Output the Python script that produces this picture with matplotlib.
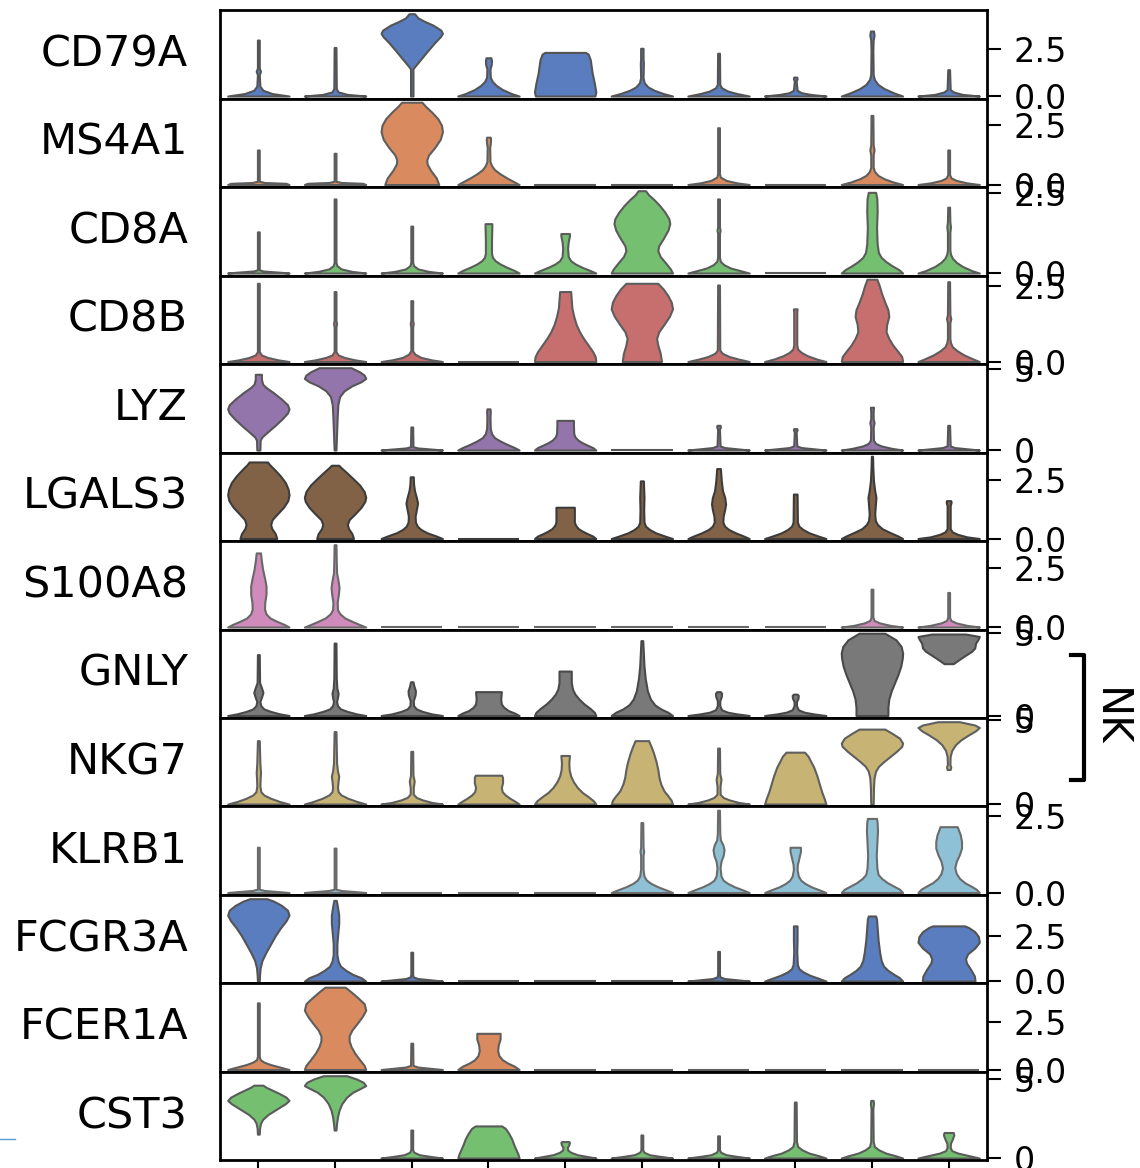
import colorsys
import matplotlib.pyplot as plt
from matplotlib.lines import Line2D
import seaborn as sns

# stacked violin: marker genes (rows) x clusters (columns)
genes = ["CD79A", "MS4A1", "CD8A", "CD8B", "LYZ", "LGALS3", "S100A8",
         "GNLY", "NKG7", "KLRB1", "FCGR3A", "FCER1A", "CST3"]
clusters = ["0", "1", "2", "3", "4", "5", "6", "7", "8", "9"]

# highest expression value per gene (top of its tallest violin)
gene_max = [4.4, 3.45, 2.58, 2.72, 5.1, 3.5, 3.5, 4.98, 4.89, 2.68, 4.54, 4.37, 5.23]
gene_ticks = [[0, 2.5], [0, 2.5], [0, 2.5], [0, 2.5], [0, 5], [0, 2.5], [0, 2.5],
              [0, 5], [0, 5], [0, 2.5], [0, 2.5], [0, 2.5], [0, 5]]

# violin outlines:
# (expression as fraction of gene max, density relative to the violin's widest point)
FLAT = [(0, 1.0), (0, 1.0)]  # cluster with no expression at all

cd79a = [
    [(0, 1), (0.03, 0.45), (0.07, 0.15), (0.12, 0.05), (0.26, 0.03), (0.30, 0.07), (0.34, 0.03), (0.68, 0.03)],
    [(0, 1), (0.02, 0.4), (0.05, 0.1), (0.09, 0.04), (0.59, 0.03)],
    [(0, 0.04), (0.33, 0.04), (0.36, 0.1), (0.45, 0.3), (0.55, 0.52), (0.65, 0.75), (0.72, 0.93),
     (0.76, 1.0), (0.80, 0.95), (0.86, 0.7), (0.91, 0.4), (0.95, 0.2), (1.0, 0.09)],
    [(0, 1), (0.03, 0.75), (0.08, 0.45), (0.13, 0.25), (0.18, 0.12), (0.23, 0.06), (0.33, 0.05),
     (0.38, 0.09), (0.43, 0.10), (0.465, 0.08)],
    [(0, 0.97), (0.05, 1.0), (0.16, 0.95), (0.28, 0.88), (0.44, 0.82), (0.51, 0.75), (0.53, 0.66)],
    [(0, 1), (0.03, 0.7), (0.07, 0.4), (0.11, 0.2), (0.16, 0.08), (0.22, 0.04), (0.40, 0.05), (0.45, 0.04), (0.58, 0.04)],
    [(0, 1), (0.03, 0.6), (0.06, 0.3), (0.10, 0.1), (0.14, 0.04), (0.52, 0.03)],
    [(0, 1), (0.02, 0.5), (0.04, 0.2), (0.07, 0.06), (0.18, 0.03), (0.21, 0.06), (0.23, 0.05)],
    [(0, 1), (0.04, 0.7), (0.09, 0.4), (0.14, 0.2), (0.20, 0.08), (0.26, 0.04), (0.55, 0.03),
     (0.68, 0.04), (0.74, 0.07), (0.79, 0.05)],
    [(0, 1), (0.02, 0.45), (0.05, 0.15), (0.08, 0.05), (0.32, 0.03)],
]

ms4a1 = [
    [(0, 1), (0.015, 0.9), (0.025, 0.2), (0.04, 0.03), (0.42, 0.03)],
    [(0, 1), (0.015, 0.9), (0.025, 0.2), (0.04, 0.03), (0.38, 0.03)],
    [(0, 0.88), (0.08, 0.8), (0.17, 0.62), (0.25, 0.5), (0.30, 0.49), (0.36, 0.55), (0.45, 0.75),
     (0.55, 0.93), (0.64, 1.0), (0.72, 0.97), (0.80, 0.85), (0.88, 0.65), (0.95, 0.45), (1.0, 0.33)],
    [(0, 1), (0.03, 0.85), (0.08, 0.6), (0.13, 0.38), (0.18, 0.2), (0.23, 0.1), (0.28, 0.05),
     (0.45, 0.04), (0.50, 0.06), (0.55, 0.07), (0.575, 0.06)],
    FLAT,
    FLAT,
    [(0, 1), (0.02, 0.6), (0.05, 0.25), (0.09, 0.06), (0.13, 0.03), (0.69, 0.03)],
    FLAT,
    [(0, 1), (0.03, 0.7), (0.07, 0.4), (0.11, 0.2), (0.16, 0.08), (0.21, 0.04), (0.36, 0.04),
     (0.42, 0.07), (0.48, 0.04), (0.84, 0.03)],
    [(0, 1), (0.02, 0.6), (0.05, 0.25), (0.08, 0.08), (0.12, 0.03), (0.42, 0.03)],
]

cd8a = [
    [(0, 1), (0.01, 0.7), (0.025, 0.15), (0.04, 0.03), (0.50, 0.03)],
    [(0, 1), (0.02, 0.55), (0.05, 0.2), (0.09, 0.06), (0.13, 0.03), (0.90, 0.03)],
    [(0, 1), (0.02, 0.55), (0.05, 0.2), (0.09, 0.06), (0.13, 0.03), (0.57, 0.03)],
    [(0, 1), (0.03, 0.85), (0.07, 0.6), (0.11, 0.38), (0.15, 0.22), (0.19, 0.13), (0.24, 0.1),
     (0.40, 0.1), (0.55, 0.11), (0.60, 0.11)],
    [(0, 1), (0.03, 0.82), (0.07, 0.55), (0.11, 0.33), (0.15, 0.18), (0.20, 0.1), (0.30, 0.08),
     (0.38, 0.1), (0.45, 0.14), (0.48, 0.14)],
    [(0, 1), (0.05, 0.93), (0.12, 0.78), (0.20, 0.6), (0.27, 0.52), (0.33, 0.55), (0.42, 0.7),
     (0.52, 0.85), (0.60, 0.91), (0.66, 0.88), (0.74, 0.75), (0.82, 0.58), (0.89, 0.4), (0.95, 0.22), (1.0, 0.12)],
    [(0, 1), (0.03, 0.7), (0.06, 0.4), (0.10, 0.18), (0.14, 0.06), (0.19, 0.03), (0.48, 0.03),
     (0.52, 0.05), (0.56, 0.03), (0.90, 0.03)],
    FLAT,
    [(0, 1), (0.04, 0.88), (0.09, 0.65), (0.14, 0.45), (0.19, 0.3), (0.25, 0.21), (0.35, 0.17),
     (0.55, 0.15), (0.75, 0.17), (0.90, 0.16), (0.98, 0.12)],
    [(0, 1), (0.03, 0.75), (0.08, 0.45), (0.13, 0.25), (0.18, 0.12), (0.23, 0.06), (0.28, 0.04),
     (0.50, 0.04), (0.56, 0.06), (0.62, 0.04), (0.80, 0.03)],
]

cd8b = [
    [(0, 1), (0.02, 0.65), (0.05, 0.3), (0.08, 0.1), (0.12, 0.03), (0.95, 0.03)],
    [(0, 1), (0.02, 0.65), (0.05, 0.3), (0.08, 0.1), (0.12, 0.03), (0.42, 0.03), (0.46, 0.05),
     (0.50, 0.03), (0.85, 0.03)],
    [(0, 1), (0.02, 0.65), (0.05, 0.3), (0.09, 0.1), (0.13, 0.03), (0.42, 0.03), (0.46, 0.05),
     (0.50, 0.03), (0.74, 0.03)],
    FLAT,
    [(0, 1), (0.06, 0.98), (0.12, 0.9), (0.20, 0.75), (0.28, 0.6), (0.36, 0.47), (0.45, 0.36),
     (0.55, 0.28), (0.65, 0.22), (0.75, 0.2), (0.85, 0.18)],
    [(0, 0.64), (0.10, 0.6), (0.20, 0.52), (0.28, 0.48), (0.36, 0.55), (0.45, 0.72), (0.55, 0.9),
     (0.64, 1.0), (0.72, 0.96), (0.80, 0.85), (0.88, 0.7), (0.95, 0.52)],
    [(0, 1), (0.03, 0.65), (0.06, 0.35), (0.10, 0.12), (0.14, 0.04), (0.93, 0.03)],
    [(0, 1), (0.03, 0.7), (0.07, 0.4), (0.11, 0.2), (0.15, 0.08), (0.20, 0.05), (0.60, 0.05), (0.64, 0.06)],
    [(0, 1), (0.06, 0.97), (0.12, 0.85), (0.20, 0.68), (0.28, 0.55), (0.36, 0.46), (0.45, 0.48),
     (0.55, 0.55), (0.63, 0.52), (0.72, 0.42), (0.82, 0.32), (0.92, 0.24), (1.0, 0.16)],
    [(0, 1), (0.03, 0.8), (0.08, 0.5), (0.13, 0.28), (0.18, 0.12), (0.23, 0.06), (0.28, 0.04),
     (0.47, 0.04), (0.52, 0.07), (0.57, 0.04), (0.97, 0.03)],
]

lyz = [
    [(0, 0.05), (0.12, 0.06), (0.16, 0.12), (0.22, 0.3), (0.30, 0.55), (0.38, 0.78), (0.45, 0.95),
     (0.50, 1.0), (0.55, 0.95), (0.62, 0.75), (0.70, 0.48), (0.76, 0.25), (0.80, 0.14), (0.86, 0.1), (0.92, 0.1)],
    [(0, 0.03), (0.20, 0.05), (0.40, 0.07), (0.55, 0.09), (0.65, 0.15), (0.72, 0.3), (0.78, 0.55),
     (0.83, 0.85), (0.87, 1.0), (0.91, 0.95), (0.95, 0.8), (1.0, 0.52)],
    [(0, 1), (0.01, 0.7), (0.025, 0.2), (0.04, 0.04), (0.28, 0.03)],
    [(0, 1), (0.03, 0.85), (0.07, 0.6), (0.11, 0.38), (0.15, 0.2), (0.20, 0.1), (0.26, 0.06),
     (0.40, 0.05), (0.47, 0.06), (0.50, 0.05)],
    [(0, 1), (0.03, 0.9), (0.06, 0.72), (0.09, 0.55), (0.12, 0.42), (0.16, 0.32), (0.20, 0.28),
     (0.30, 0.27), (0.36, 0.27)],
    FLAT,
    [(0, 1), (0.015, 0.6), (0.03, 0.2), (0.05, 0.05), (0.25, 0.03), (0.28, 0.06), (0.30, 0.05)],
    [(0, 1), (0.015, 0.6), (0.03, 0.2), (0.05, 0.05), (0.22, 0.03), (0.245, 0.06), (0.26, 0.05)],
    [(0, 1), (0.02, 0.65), (0.05, 0.3), (0.08, 0.12), (0.12, 0.05), (0.28, 0.04), (0.33, 0.07),
     (0.38, 0.04), (0.47, 0.04), (0.52, 0.05)],
    [(0, 1), (0.015, 0.6), (0.03, 0.2), (0.05, 0.05), (0.30, 0.03)],
]

lgals3 = [
    [(0, 0.6), (0.06, 0.55), (0.12, 0.44), (0.17, 0.4), (0.23, 0.45), (0.30, 0.62), (0.38, 0.82),
     (0.46, 0.96), (0.53, 1.0), (0.60, 0.97), (0.68, 0.88), (0.76, 0.72), (0.84, 0.52), (0.90, 0.36), (0.93, 0.3)],
    [(0, 0.6), (0.06, 0.55), (0.12, 0.44), (0.17, 0.4), (0.23, 0.46), (0.30, 0.65), (0.38, 0.85),
     (0.45, 0.97), (0.50, 1.0), (0.57, 0.95), (0.65, 0.8), (0.73, 0.58), (0.80, 0.38), (0.86, 0.2), (0.89, 0.12)],
    [(0, 1), (0.03, 0.8), (0.07, 0.5), (0.11, 0.3), (0.15, 0.18), (0.20, 0.12), (0.27, 0.11),
     (0.35, 0.15), (0.43, 0.19), (0.50, 0.15), (0.58, 0.09), (0.66, 0.06), (0.75, 0.05)],
    FLAT,
    [(0, 1), (0.03, 0.9), (0.06, 0.72), (0.09, 0.56), (0.12, 0.43), (0.16, 0.34), (0.20, 0.3),
     (0.30, 0.3), (0.38, 0.3)],
    [(0, 1), (0.03, 0.75), (0.07, 0.45), (0.11, 0.25), (0.15, 0.12), (0.20, 0.07), (0.35, 0.06),
     (0.50, 0.07), (0.70, 0.05)],
    [(0, 1), (0.03, 0.82), (0.07, 0.55), (0.11, 0.33), (0.15, 0.2), (0.20, 0.14), (0.27, 0.15),
     (0.35, 0.2), (0.42, 0.23), (0.50, 0.2), (0.58, 0.13), (0.70, 0.09), (0.85, 0.06)],
    [(0, 1), (0.03, 0.75), (0.07, 0.45), (0.11, 0.25), (0.15, 0.12), (0.20, 0.07), (0.54, 0.06)],
    [(0, 1), (0.03, 0.85), (0.08, 0.55), (0.12, 0.33), (0.17, 0.18), (0.22, 0.11), (0.30, 0.09),
     (0.40, 0.11), (0.50, 0.13), (0.58, 0.09), (0.70, 0.05), (0.85, 0.03), (1.0, 0.02)],
    [(0, 1), (0.02, 0.6), (0.05, 0.3), (0.08, 0.12), (0.12, 0.05), (0.40, 0.05), (0.44, 0.08), (0.46, 0.07)],
]

s100a8 = [
    [(0, 1), (0.03, 0.85), (0.07, 0.6), (0.11, 0.38), (0.16, 0.25), (0.22, 0.2), (0.30, 0.21),
     (0.40, 0.25), (0.50, 0.25), (0.60, 0.2), (0.70, 0.14), (0.80, 0.1), (0.90, 0.07)],
    [(0, 1), (0.03, 0.8), (0.07, 0.55), (0.11, 0.32), (0.16, 0.16), (0.21, 0.08), (0.30, 0.07),
     (0.40, 0.11), (0.48, 0.13), (0.56, 0.1), (0.66, 0.05), (0.80, 0.04), (1.0, 0.03)],
    FLAT, FLAT, FLAT, FLAT, FLAT, FLAT,
    [(0, 1), (0.02, 0.6), (0.05, 0.25), (0.08, 0.07), (0.12, 0.03), (0.46, 0.03)],
    [(0, 1), (0.02, 0.6), (0.05, 0.25), (0.08, 0.07), (0.12, 0.03), (0.42, 0.03)],
]

gnly = [
    [(0, 1), (0.02, 0.7), (0.05, 0.4), (0.08, 0.18), (0.12, 0.08), (0.17, 0.05), (0.22, 0.1),
     (0.28, 0.15), (0.34, 0.1), (0.40, 0.04), (0.74, 0.03)],
    [(0, 1), (0.02, 0.7), (0.05, 0.4), (0.08, 0.18), (0.12, 0.08), (0.17, 0.05), (0.22, 0.08),
     (0.27, 0.1), (0.33, 0.06), (0.45, 0.04), (0.88, 0.03)],
    [(0, 1), (0.02, 0.65), (0.05, 0.35), (0.08, 0.15), (0.12, 0.06), (0.18, 0.05), (0.25, 0.11),
     (0.30, 0.12), (0.36, 0.07), (0.41, 0.04)],
    [(0, 1), (0.03, 0.85), (0.06, 0.65), (0.10, 0.5), (0.14, 0.42), (0.20, 0.4), (0.29, 0.42)],
    [(0, 1), (0.04, 0.95), (0.09, 0.8), (0.14, 0.62), (0.20, 0.45), (0.26, 0.32), (0.32, 0.24),
     (0.40, 0.2), (0.54, 0.2)],
    [(0, 1), (0.04, 0.85), (0.08, 0.62), (0.13, 0.42), (0.20, 0.28), (0.30, 0.18), (0.45, 0.11),
     (0.60, 0.07), (0.75, 0.05), (0.91, 0.03)],
    [(0, 1), (0.02, 0.6), (0.04, 0.3), (0.07, 0.1), (0.12, 0.04), (0.18, 0.04), (0.23, 0.09),
     (0.27, 0.1), (0.29, 0.06)],
    [(0, 1), (0.02, 0.6), (0.04, 0.3), (0.07, 0.1), (0.12, 0.04), (0.17, 0.04), (0.21, 0.09),
     (0.245, 0.1), (0.26, 0.06)],
    [(0, 0.52), (0.10, 0.52), (0.20, 0.55), (0.30, 0.63), (0.40, 0.74), (0.50, 0.85), (0.60, 0.94),
     (0.70, 0.99), (0.76, 1.0), (0.84, 0.95), (0.92, 0.78), (1.0, 0.42)],
    [(0.63, 0.15), (0.67, 0.3), (0.72, 0.5), (0.78, 0.75), (0.82, 0.85), (0.88, 0.88), (0.92, 0.95),
     (0.96, 1.0), (0.99, 0.55)],
]

nkg7 = [
    [(0, 1), (0.03, 0.7), (0.07, 0.4), (0.11, 0.18), (0.15, 0.08), (0.22, 0.05), (0.32, 0.06),
     (0.38, 0.07), (0.50, 0.05), (0.77, 0.03)],
    [(0, 1), (0.03, 0.72), (0.07, 0.42), (0.11, 0.2), (0.15, 0.1), (0.20, 0.08), (0.28, 0.1),
     (0.34, 0.12), (0.40, 0.08), (0.50, 0.05), (0.88, 0.03)],
    [(0, 1), (0.02, 0.65), (0.05, 0.35), (0.08, 0.15), (0.12, 0.05), (0.20, 0.05), (0.28, 0.08),
     (0.35, 0.04), (0.64, 0.03)],
    [(0, 1), (0.03, 0.88), (0.07, 0.7), (0.11, 0.55), (0.15, 0.45), (0.20, 0.42), (0.26, 0.46),
     (0.32, 0.46), (0.35, 0.43)],
    [(0, 1), (0.04, 0.92), (0.09, 0.75), (0.14, 0.56), (0.20, 0.4), (0.27, 0.27), (0.34, 0.18),
     (0.42, 0.13), (0.50, 0.12), (0.59, 0.14)],
    [(0, 1), (0.05, 0.95), (0.10, 0.85), (0.16, 0.72), (0.24, 0.62), (0.32, 0.56), (0.42, 0.52),
     (0.52, 0.46), (0.62, 0.38), (0.70, 0.3), (0.77, 0.22)],
    [(0, 1), (0.02, 0.65), (0.05, 0.35), (0.08, 0.15), (0.12, 0.05), (0.22, 0.05), (0.30, 0.08),
     (0.37, 0.04), (0.68, 0.03)],
    [(0, 1), (0.06, 0.95), (0.15, 0.86), (0.25, 0.78), (0.35, 0.7), (0.45, 0.6), (0.52, 0.5),
     (0.58, 0.42), (0.63, 0.3)],
    [(0, 0.04), (0.20, 0.05), (0.32, 0.07), (0.40, 0.12), (0.46, 0.22), (0.52, 0.4), (0.58, 0.6),
     (0.64, 0.8), (0.70, 0.97), (0.74, 1.0), (0.80, 0.9), (0.86, 0.65), (0.91, 0.42)],
    [(0.42, 0.05), (0.45, 0.07), (0.48, 0.04), (0.58, 0.05), (0.65, 0.1), (0.72, 0.22), (0.78, 0.4),
     (0.84, 0.65), (0.89, 0.88), (0.93, 1.0), (0.96, 0.85), (1.0, 0.35)],
]

klrb1 = [
    [(0, 1), (0.01, 0.7), (0.025, 0.2), (0.04, 0.03), (0.55, 0.03)],
    [(0, 1), (0.01, 0.7), (0.025, 0.2), (0.04, 0.03), (0.54, 0.03)],
    FLAT, FLAT, FLAT,
    [(0, 1), (0.03, 0.8), (0.07, 0.52), (0.11, 0.3), (0.15, 0.15), (0.20, 0.07), (0.28, 0.04),
     (0.45, 0.04), (0.50, 0.06), (0.55, 0.04), (0.85, 0.03)],
    [(0, 1), (0.03, 0.8), (0.07, 0.52), (0.11, 0.3), (0.15, 0.15), (0.20, 0.08), (0.30, 0.05),
     (0.38, 0.08), (0.45, 0.15), (0.52, 0.18), (0.58, 0.14), (0.64, 0.06), (0.72, 0.04), (1.0, 0.03)],
    [(0, 1), (0.03, 0.8), (0.07, 0.52), (0.11, 0.32), (0.15, 0.18), (0.20, 0.1), (0.28, 0.06),
     (0.34, 0.07), (0.42, 0.12), (0.50, 0.17), (0.55, 0.17)],
    [(0, 1), (0.04, 0.9), (0.08, 0.7), (0.12, 0.5), (0.17, 0.32), (0.22, 0.2), (0.30, 0.16),
     (0.45, 0.14), (0.60, 0.16), (0.75, 0.18), (0.85, 0.17), (0.90, 0.15)],
    [(0, 1), (0.04, 0.9), (0.08, 0.72), (0.12, 0.52), (0.17, 0.36), (0.23, 0.25), (0.30, 0.2),
     (0.38, 0.25), (0.46, 0.35), (0.54, 0.42), (0.62, 0.42), (0.70, 0.38), (0.76, 0.32), (0.80, 0.28)],
]

fcgr3a = [
    [(0, 0.03), (0.08, 0.04), (0.16, 0.06), (0.25, 0.12), (0.35, 0.25), (0.45, 0.4), (0.55, 0.55),
     (0.65, 0.73), (0.73, 0.9), (0.80, 1.0), (0.86, 0.95), (0.92, 0.75), (0.97, 0.5), (1.0, 0.28)],
    [(0, 1), (0.04, 0.85), (0.08, 0.58), (0.13, 0.35), (0.18, 0.18), (0.24, 0.1), (0.32, 0.06),
     (0.45, 0.06), (0.58, 0.09), (0.70, 0.12), (0.80, 0.12), (0.90, 0.08), (0.98, 0.04)],
    [(0, 1), (0.015, 0.6), (0.03, 0.2), (0.05, 0.05), (0.08, 0.03), (0.35, 0.03)],
    FLAT, FLAT, FLAT,
    [(0, 1), (0.015, 0.6), (0.03, 0.2), (0.05, 0.05), (0.08, 0.03), (0.36, 0.03)],
    [(0, 1), (0.03, 0.78), (0.07, 0.48), (0.11, 0.26), (0.15, 0.12), (0.20, 0.07), (0.35, 0.05),
     (0.50, 0.06), (0.67, 0.06)],
    [(0, 1), (0.04, 0.9), (0.08, 0.72), (0.13, 0.52), (0.18, 0.38), (0.25, 0.3), (0.35, 0.25),
     (0.50, 0.2), (0.65, 0.17), (0.75, 0.15), (0.79, 0.12)],
    [(0, 0.86), (0.06, 0.84), (0.14, 0.72), (0.22, 0.58), (0.27, 0.55), (0.33, 0.62), (0.40, 0.85),
     (0.47, 1.0), (0.54, 0.97), (0.60, 0.85), (0.65, 0.65), (0.67, 0.52)],
]

fcer1a = [
    [(0, 1), (0.03, 0.7), (0.06, 0.4), (0.09, 0.18), (0.12, 0.06), (0.16, 0.03), (0.81, 0.03)],
    [(0, 1), (0.05, 0.95), (0.12, 0.8), (0.20, 0.64), (0.28, 0.52), (0.35, 0.46), (0.41, 0.46),
     (0.48, 0.55), (0.56, 0.72), (0.64, 0.88), (0.72, 1.0), (0.80, 0.95), (0.88, 0.72), (0.95, 0.5), (1.0, 0.33)],
    [(0, 1), (0.015, 0.6), (0.03, 0.2), (0.05, 0.04), (0.32, 0.03)],
    [(0, 1), (0.04, 0.85), (0.08, 0.62), (0.12, 0.45), (0.17, 0.34), (0.23, 0.3), (0.30, 0.32),
     (0.37, 0.38), (0.44, 0.38)],
    FLAT, FLAT, FLAT, FLAT, FLAT, FLAT,
]

cst3 = [
    [(0.29, 0.03), (0.36, 0.04), (0.42, 0.07), (0.47, 0.14), (0.53, 0.32), (0.60, 0.62), (0.66, 0.88),
     (0.70, 1.0), (0.74, 0.9), (0.79, 0.65), (0.83, 0.42), (0.86, 0.25), (0.885, 0.15)],
    [(0.34, 0.03), (0.42, 0.05), (0.50, 0.08), (0.58, 0.13), (0.66, 0.22), (0.74, 0.38), (0.80, 0.58),
     (0.85, 0.85), (0.88, 1.0), (0.92, 0.92), (0.96, 0.7), (1.0, 0.38)],
    [(0, 1), (0.02, 0.6), (0.04, 0.25), (0.07, 0.07), (0.10, 0.03), (0.34, 0.03)],
    [(0, 1), (0.05, 0.96), (0.10, 0.9), (0.16, 0.83), (0.23, 0.76), (0.30, 0.66), (0.36, 0.55), (0.39, 0.43)],
    [(0, 1), (0.02, 0.7), (0.04, 0.4), (0.07, 0.18), (0.10, 0.08), (0.13, 0.07), (0.16, 0.12),
     (0.19, 0.14), (0.20, 0.12)],
    [(0, 1), (0.02, 0.6), (0.04, 0.25), (0.07, 0.07), (0.10, 0.03), (0.28, 0.03)],
    [(0, 1), (0.02, 0.6), (0.04, 0.25), (0.07, 0.07), (0.10, 0.03), (0.27, 0.03)],
    [(0, 1), (0.03, 0.75), (0.06, 0.45), (0.10, 0.22), (0.14, 0.08), (0.20, 0.04), (0.68, 0.03)],
    [(0, 1), (0.03, 0.75), (0.06, 0.45), (0.10, 0.22), (0.14, 0.08), (0.20, 0.04), (0.60, 0.03),
     (0.66, 0.05), (0.70, 0.04)],
    [(0, 1), (0.03, 0.65), (0.06, 0.3), (0.09, 0.1), (0.13, 0.05), (0.18, 0.06), (0.23, 0.12),
     (0.28, 0.17), (0.31, 0.15)],
]

profiles = [cd79a, ms4a1, cd8a, cd8b, lyz, lgals3, s100a8, gnly, nkg7, klrb1, fcgr3a, fcer1a, cst3]

# genes grouped under a bracket on the right
group_label = "NK"
group_genes = ["GNLY", "NKG7"]

W, H = 1140, 1168
palette = sns.color_palette("muted", len(clusters), desat=0.75)

fig, axes = plt.subplots(len(genes), 1, figsize=(W / 100, H / 100), dpi=100,
                         sharex=True, gridspec_kw={"hspace": 0})
fig.subplots_adjust(left=220 / W, right=987 / W, top=1 - 10 / H, bottom=1 - 1160.5 / H)

positions = list(range(len(clusters)))
for i, (ax, gene) in enumerate(zip(axes, genes)):
    top = gene_max[i]
    color = palette[i % len(palette)]
    lum = colorsys.rgb_to_hls(*color)[1] * 0.6
    stats = []
    for prof in profiles[i]:
        ys = [f * top for f, w in prof]
        ws = [w for f, w in prof]
        stats.append(dict(coords=ys, vals=ws, mean=ys[0], median=ys[0],
                          min=ys[0], max=ys[-1]))
    parts = ax.violin(stats, positions=positions, widths=0.8,
                      showmeans=False, showextrema=False, showmedians=False)
    for body in parts["bodies"]:
        body.set_facecolor(color)
        body.set_edgecolor((lum, lum, lum))
        body.set_alpha(1)
        body.set_linewidth(1.5)

    ax.set_xlim(-0.5, len(clusters) - 0.5)
    ax.set_ylim(-0.03 * top, 1.045 * top)
    ax.set_yticks(gene_ticks[i])
    ax.yaxis.tick_right()
    ax.tick_params(axis="y", labelsize=24, length=10, width=1.5, pad=9)
    ax.tick_params(axis="x", bottom=False, labelbottom=False)
    for sp in ax.spines.values():
        sp.set_linewidth(2)
    ax.annotate(gene, xy=(0, 0.5), xycoords="axes fraction", xytext=(-23, 0),
                textcoords="offset points", ha="right", va="center", fontsize=31)

axes[-1].set_xticks(positions)
axes[-1].set_xticklabels([])
axes[-1].tick_params(axis="x", bottom=True, length=10, width=1.5)

# bracket for the NK gene group
y_top = 1 - 655 / H
y_bot = 1 - 780 / H
xb = 1084 / W
xt = 1071 / W
fig.add_artist(Line2D([xt, xb, xb, xt], [y_top, y_top, y_bot, y_bot],
                      color="black", lw=3, transform=fig.transFigure))
fig.text(1110 / W, (y_top + y_bot) / 2, group_label, rotation=270,
         ha="center", va="center", fontsize=30)

# thin blue stroke at the left edge of the source image
fig.add_artist(Line2D([0, 15 / W], [1 - 1139 / H, 1 - 1139 / H], color="#5b9bd5",
                      lw=1, transform=fig.transFigure))

fig.savefig("out.png", dpi=100)
plt.close(fig)
